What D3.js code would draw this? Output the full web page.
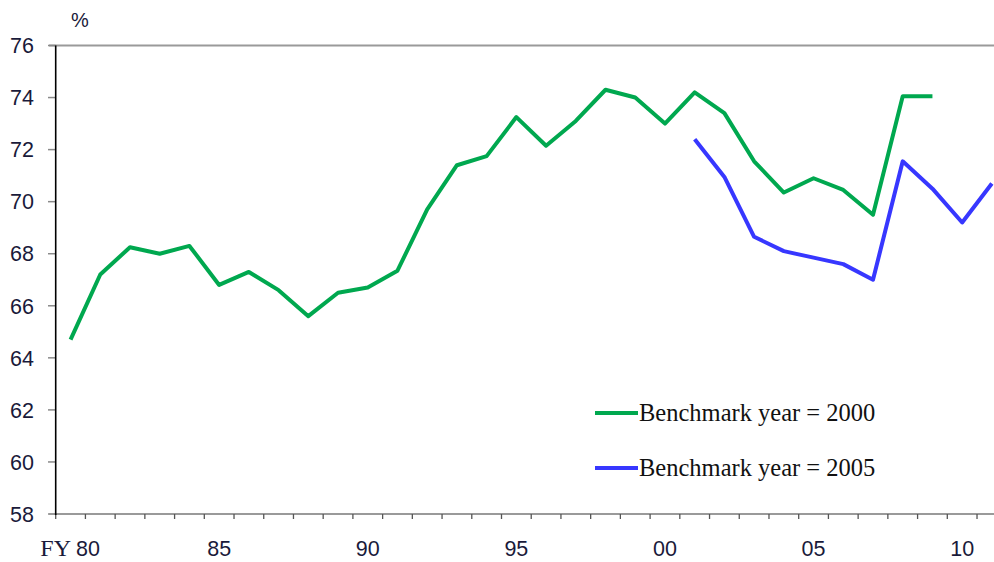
<!DOCTYPE html>
<html><head><meta charset="utf-8">
<script src="https://cdn.jsdelivr.net/npm/d3@7"></script>
<style>html,body{margin:0;padding:0;background:#fff;overflow:hidden}</style>
</head><body>
<svg id="c" width="994" height="562"></svg>
<script>
const years = d3.range(1980, 2012);
const green2000 = [64.7,67.2,68.25,68.0,68.3,66.8,67.3,66.6,65.6,66.5,66.7,67.35,69.7,71.4,71.75,73.25,72.15,73.1,74.3,74.0,73.0,74.2,73.4,71.55,70.35,70.9,70.45,69.5,74.05,74.05];
const greenYears = d3.range(1980, 2010);
const blue2005 = [72.4,70.95,68.65,68.1,67.85,67.6,67.0,71.55,70.5,69.2,70.7];
const blueYears = d3.range(2001, 2012);
const yTicks = [58,60,62,64,66,68,70,72,74,76];
const xLabels = [[1980,"80"],[1985,"85"],[1990,"90"],[1995,"95"],[2000,"00"],[2005,"05"],[2010,"10"]];
const legendItems = [["Benchmark year = 2000","#00A84F"],["Benchmark year = 2005","#3737FF"]];

const svg = d3.select("#c");
const left = 55.7, bw = 29.72;
const x = d3.scaleBand().domain(years).range([left, left + bw*years.length]).padding(0);
const y = d3.scaleLinear().domain([58,76]).range([514,45.5]);
const sans = "'Liberation Sans', Arial, sans-serif";
const serif = "'Liberation Serif', 'Times New Roman', serif";

svg.append("line").attr("x1",49).attr("x2",994).attr("y1",y(76)).attr("y2",y(76))
  .attr("stroke","#9a9a9a").attr("stroke-width",2);
svg.selectAll(".yt").data(yTicks).enter().append("line")
  .attr("x1",48).attr("x2",left).attr("y1",d=>y(d)).attr("y2",d=>y(d))
  .attr("stroke","#8a8a8a").attr("stroke-width",1.5);
svg.selectAll(".yl").data(yTicks).enter().append("text")
  .attr("x",34).attr("y",d=>y(d)).attr("dy","0.36em").attr("text-anchor","end")
  .attr("font-family",sans).attr("font-size",21.5).attr("fill","#1a1a3a").text(d=>d);
svg.append("line").attr("x1",49).attr("x2",994).attr("y1",y(58)).attr("y2",y(58))
  .attr("stroke","#9a9a9a").attr("stroke-width",2);
svg.selectAll(".xt").data(years).enter().append("line")
  .attr("x1",d=>x(d)).attr("x2",d=>x(d)).attr("y1",y(58)).attr("y2",y(58)+5)
  .attr("stroke","#555").attr("stroke-width",1.3);
svg.append("line").attr("x1",left).attr("x2",left).attr("y1",y(76)).attr("y2",y(58)+1)
  .attr("stroke","#000").attr("stroke-width",1.6);
xLabels.forEach(([yr,lab])=>{
  const t = svg.append("text").attr("x",x(yr)+bw/2).attr("y",556).attr("text-anchor","middle")
    .attr("font-family",sans).attr("font-size",21.5).attr("fill","#1a1a3a");
  if (yr===1980){
    t.attr("text-anchor","end").attr("x",100);
    t.append("tspan").attr("font-family",serif).attr("font-size",24).text("FY ");
    t.append("tspan").text(lab);
  } else t.text(lab);
});
svg.append("text").attr("x",80).attr("y",27).attr("text-anchor","middle")
  .attr("font-family",sans).attr("font-size",20).attr("fill","#1a1a3a").text("%");

const line = d3.line().x(d=>x(d[0])+bw/2).y(d=>y(d[1]));
svg.append("path").datum(greenYears.map((yr,i)=>[yr,green2000[i]]))
  .attr("d",line).attr("fill","none").attr("stroke",legendItems[0][1]).attr("stroke-width",4).attr("stroke-linejoin","round");
svg.append("path").datum(blueYears.map((yr,i)=>[yr,blue2005[i]]))
  .attr("d",line).attr("fill","none").attr("stroke",legendItems[1][1]).attr("stroke-width",4).attr("stroke-linejoin","round");

legendItems.forEach(([lab,col],i)=>{
  const ly = 413 + i*55;
  svg.append("line").attr("x1",595).attr("x2",638).attr("y1",ly).attr("y2",ly)
    .attr("stroke",col).attr("stroke-width",4);
  svg.append("text").attr("x",639).attr("y",ly).attr("dy","0.33em")
    .attr("font-family",serif).attr("font-size",24.5).attr("fill","#111").text(lab);
});
</script>
</body></html>
